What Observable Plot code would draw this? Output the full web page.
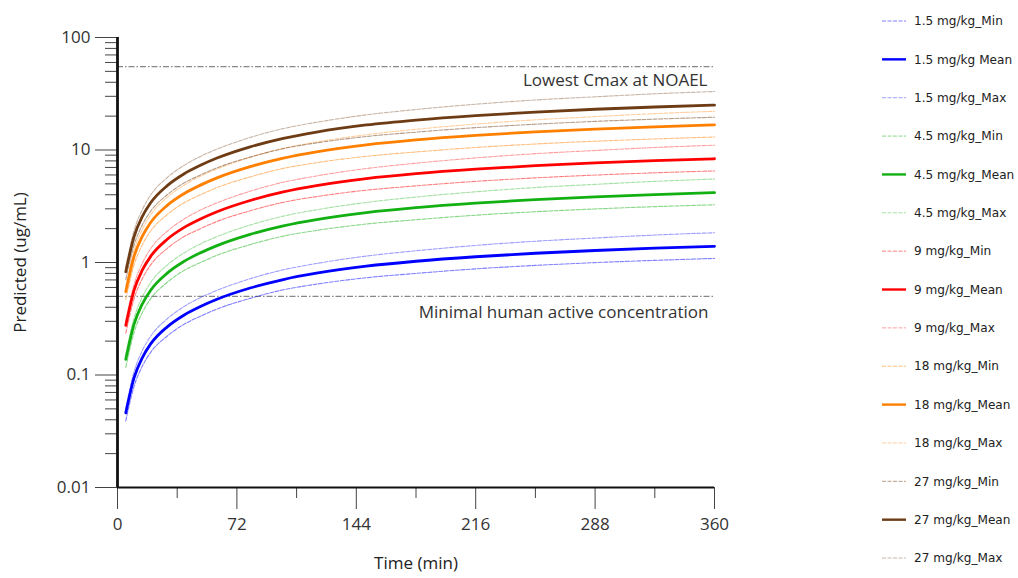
<!DOCTYPE html>
<html>
<head>
<meta charset="utf-8">
<script src="https://cdn.jsdelivr.net/npm/d3@7"></script>
<script src="https://cdn.jsdelivr.net/npm/@observablehq/plot@0.6"></script>
<style>
  html, body { margin: 0; padding: 0; background: #fff; }
  #wrap { position: relative; width: 1018px; height: 578px; overflow: hidden; }
  #legend { position: absolute; left: 0; top: 0; }
</style>
</head>
<body>
<div id="wrap"><div id="chart"></div><svg id="legend" width="1018" height="578"></svg></div>
<script>
// ---- data ----
const times = [5, 10, 15, 20, 30, 40, 50, 60, 80, 100, 120, 150, 180, 216, 252, 288, 324, 360];
const xTicks = [0, 72, 144, 216, 288, 360];
const xMinorTicks = [36, 108, 180, 252, 324];
const yTicks = [0.01, 0.1, 1, 10, 100];
const yTickLabels = ["0.01", "0.1", "1", "10", "100"];

const min_1_5  = [0.0391,0.0795,0.120,0.159,0.222,0.282,0.333,0.386,0.480,0.572,0.642,0.732,0.800,0.878,0.942,0.998,1.045,1.087];
const mean_1_5 = [0.046,0.0946,0.143,0.189,0.268,0.340,0.406,0.471,0.593,0.706,0.803,0.927,1.026,1.125,1.208,1.279,1.340,1.393];
const max_1_5  = [0.0506,0.107,0.165,0.221,0.316,0.405,0.487,0.565,0.718,0.861,0.980,1.140,1.272,1.418,1.546,1.650,1.755,1.839];

const min_4_5  = [0.117,0.239,0.360,0.476,0.667,0.847,0.999,1.159,1.441,1.716,1.927,2.197,2.401,2.633,2.827,2.993,3.136,3.26];
const mean_4_5 = [0.138,0.284,0.429,0.567,0.804,1.02,1.218,1.413,1.779,2.118,2.409,2.781,3.078,3.375,3.624,3.837,4.02,4.179];
const max_4_5  = [0.152,0.321,0.494,0.663,0.949,1.214,1.462,1.696,2.153,2.584,2.939,3.42,3.817,4.253,4.639,4.95,5.266,5.517];

const min_9  = [0.235,0.477,0.721,0.953,1.335,1.693,1.998,2.317,2.882,3.431,3.854,4.394,4.802,5.265,5.653,5.986,6.271,6.519];
const mean_9 = [0.276,0.568,0.858,1.134,1.608,2.04,2.436,2.826,3.558,4.236,4.818,5.562,6.156,6.75,7.248,7.674,8.04,8.358];
const max_9  = [0.304,0.641,0.987,1.327,1.897,2.428,2.923,3.391,4.305,5.168,5.878,6.841,7.633,8.505,9.277,9.899,10.53,11.03];

const min_18  = [0.469,0.953,1.441,1.905,2.669,3.386,3.995,4.635,5.764,6.862,7.709,8.787,9.604,10.53,11.31,11.97,12.54,13.04];
const mean_18 = [0.552,1.135,1.716,2.268,3.216,4.08,4.872,5.652,7.116,8.472,9.636,11.12,12.31,13.5,14.5,15.35,16.08,16.72];
const max_18  = [0.607,1.283,1.973,2.654,3.795,4.855,5.846,6.782,8.61,10.34,11.76,13.68,15.27,17.01,18.55,19.8,21.06,22.07];

const min_27  = [0.704,1.43,2.162,2.858,4.004,5.08,5.993,6.952,8.646,10.29,11.56,13.18,14.41,15.8,16.96,17.96,18.81,19.56];
const mean_27 = [0.828,1.703,2.574,3.402,4.824,6.12,7.308,8.478,10.67,12.71,14.45,16.69,18.47,20.25,21.74,23.02,24.12,25.07];
const max_27  = [0.911,1.924,2.96,3.98,5.692,7.283,8.77,10.17,12.92,15.5,17.63,20.52,22.9,25.52,27.83,29.7,31.6,33.1];

const refValues = [55, 0.5];
const refLabels = ["Lowest Cmax at NOAEL", "Minimal human active concentration"];
const yLabel = "Predicted (ug/mL)";
const xLabel = "Time (min)";

const seriesNames = [
  "1.5 mg/kg_Min", "1.5 mg/kg Mean", "1.5 mg/kg_Max",
  "4.5 mg/kg_Min", "4.5 mg/kg_Mean", "4.5 mg/kg_Max",
  "9 mg/kg_Min", "9 mg/kg_Mean", "9 mg/kg_Max",
  "18 mg/kg_Min", "18 mg/kg_Mean", "18 mg/kg_Max",
  "27 mg/kg_Min", "27 mg/kg_Mean", "27 mg/kg_Max"
];
const seriesValues = [
  min_1_5, mean_1_5, max_1_5,
  min_4_5, mean_4_5, max_4_5,
  min_9, mean_9, max_9,
  min_18, mean_18, max_18,
  min_27, mean_27, max_27
];

// ---- styles ----
const doseColors = ["#0000ff", "#12b012", "#ff0000", "#ff8000", "#6e3c14"];
const kindStyle = {
  Min:  {width: 1.1, opacity: 0.5,  dash: "4,1.5"},
  Mean: {width: 2.8, opacity: 1,    dash: null},
  Max:  {width: 1.1, opacity: 0.38, dash: "4,1.5"}
};
const kinds = ["Min", "Mean", "Max"];

const series = seriesNames.map((name, i) => ({
  name, kind: kinds[i % 3], color: doseColors[Math.floor(i / 3)], values: seriesValues[i]
}));
const rows = k => series.filter(s => s.kind === k)
  .flatMap(s => s.values.map((v, j) => ({t: times[j], v, name: s.name, color: s.color})));

const font = "'Open Sans', 'Segoe UI', sans-serif";

const lineFor = k => Plot.line(rows(k), {
  x: "t", y: "v", z: "name", stroke: d => d.color,
  strokeWidth: kindStyle[k].width, strokeOpacity: kindStyle[k].opacity,
  strokeDasharray: kindStyle[k].dash, curve: "monotone-x"
});

const refs = refValues.map((v, i) => ({v, label: refLabels[i]}));
const yMinor = d3.range(-2, 2).flatMap(e => [2,3,4,5,6,7,8,9].map(m => m * Math.pow(10, e)));

const chart = Plot.plot({
  width: 1018, height: 578,
  marginLeft: 117, marginRight: 304, marginTop: 37, marginBottom: 91,
  style: {fontFamily: font, fontSize: "17px", color: "#333", background: "#fff"},
  x: {domain: [0, 360]},
  y: {type: "log", domain: [0.01, 100]},
  marks: [
    Plot.ruleY(refs, {y: "v", stroke: "#888", strokeWidth: 1.2, strokeDasharray: "6,2,1.5,2"}),
    Plot.text(refs.slice(0, 1), {x: 360, y: "v", text: "label", textAnchor: "end", dx: -7, dy: 14, fontSize: 17, fill: "#333"}),
    Plot.text(refs.slice(1), {x: 360, y: "v", text: "label", textAnchor: "end", dx: -6, dy: 16, fontSize: 17, fill: "#333"}),
    lineFor("Max"),
    lineFor("Min"),
    lineFor("Mean"),
    Plot.axisY({ticks: yTicks, tickSize: 22, tickFormat: () => "", stroke: "#444", label: null}),
    Plot.axisY({ticks: yMinor, tickSize: 12, tickFormat: () => "", label: null, stroke: "#444"}),
    Plot.axisX({ticks: xTicks, tickSize: 22, tickFormat: () => "", stroke: "#444", label: null}),
    Plot.axisX({ticks: xMinorTicks, tickSize: 11, tickFormat: () => "", label: null, stroke: "#444"}),
    Plot.text(yTicks, {x: 0, y: d => d, text: (d, i) => yTickLabels[i], textAnchor: "end", dx: -27, fontSize: 17, fill: "#333"}),
    Plot.text(xTicks, {x: d => d, y: 0.01, text: d => String(d), dy: 37, fontSize: 17, fill: "#333"}),
    Plot.ruleX([0], {stroke: "#111", strokeWidth: 2.8}),
    Plot.ruleY([0.01], {stroke: "#111", strokeWidth: 2}),
    Plot.text([yLabel], {frameAnchor: "left", textAnchor: "middle", rotate: -90, dx: -97, fontSize: 17, fill: "#222"}),
    Plot.text([xLabel], {frameAnchor: "bottom", textAnchor: "middle", dy: 81, fontSize: 17, fill: "#222"})
  ]
});
document.getElementById("chart").appendChild(chart);

// ---- legend ----
const lg = d3.select("#legend");
const legendTop = 21, legendStep = 38.36;
series.forEach((s, i) => {
  const y = legendTop + i * legendStep;
  const st = kindStyle[s.kind];
  lg.append("line").attr("x1", 882).attr("x2", 906).attr("y1", y).attr("y2", y)
    .attr("stroke", s.color).attr("stroke-width", s.kind === "Mean" ? 2.4 : 1)
    .attr("stroke-opacity", st.opacity).attr("stroke-dasharray", st.dash);
  lg.append("text").attr("x", 914).attr("y", y).attr("dy", "0.35em")
    .attr("font-family", "'DejaVu Sans', Verdana, sans-serif").attr("font-size", 12.1)
    .attr("fill", "#222").text(s.name);
});
</script>
</body>
</html>
